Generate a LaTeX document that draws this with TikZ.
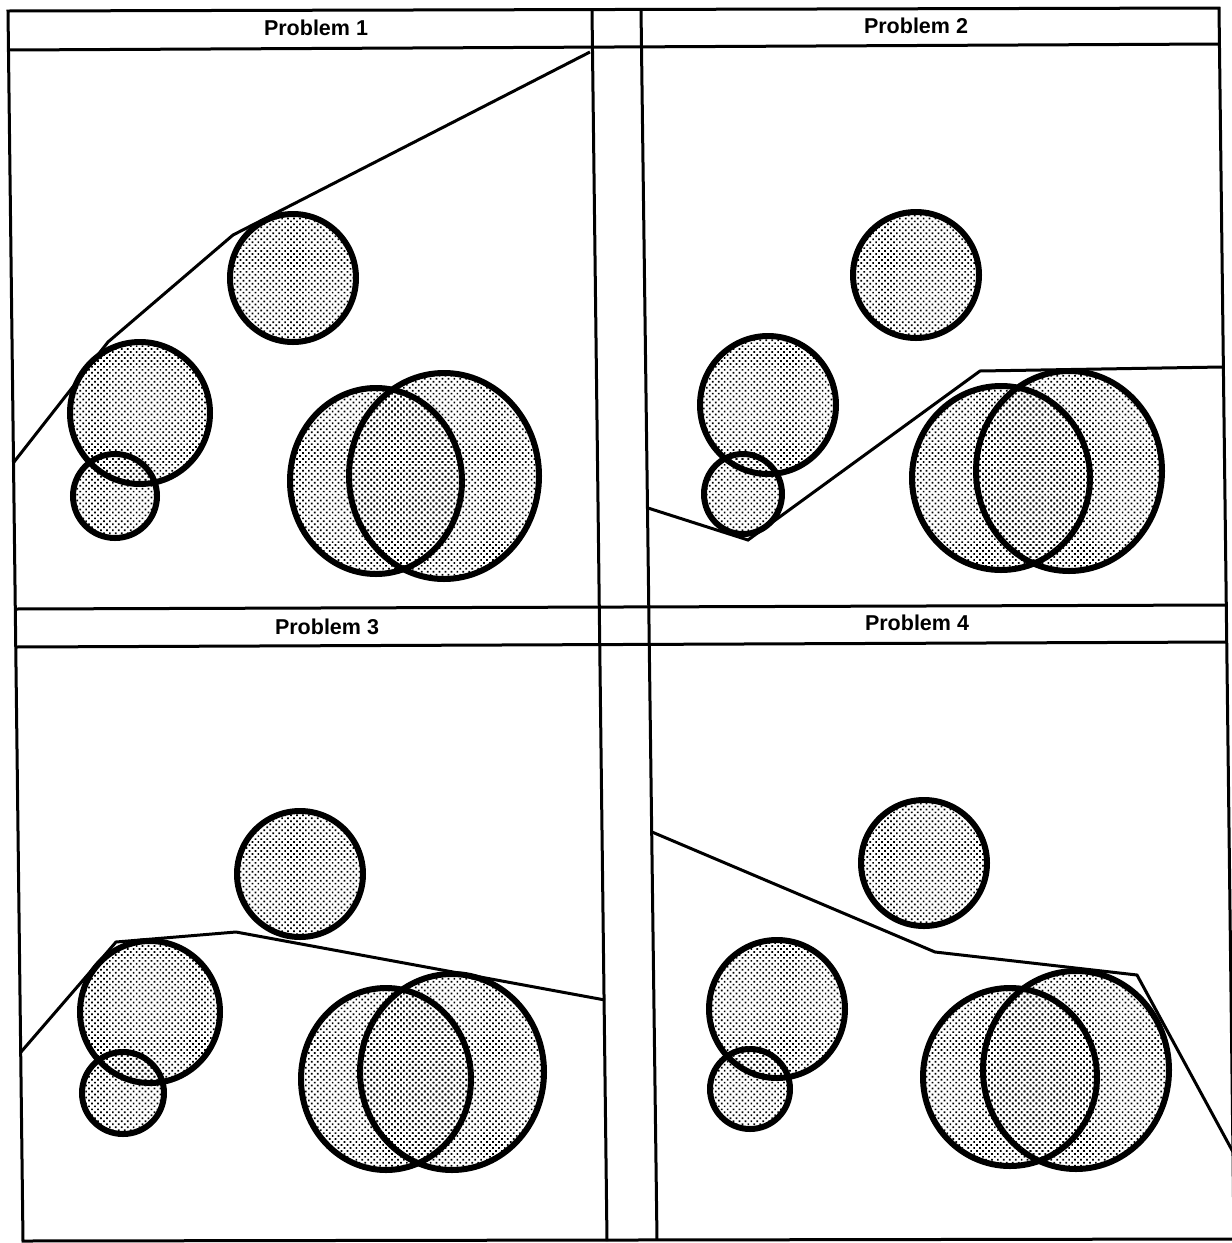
\documentclass[tikz,border=0pt]{standalone}
\usepackage{fontspec}
\setmainfont{Liberation Sans}
\usetikzlibrary{patterns.meta}

% centre x / centre y / x radius / y radius, in pixels of the scan
\def\spots{293/278/63/64, 140/413/70/71, 115/496/42/42, 376/481/86/93, 444/476/95/103,
  916/275/63/63, 768/405/68/69, 743/494/39/40, 1001/478/89/92, 1069/471/93/100,
  300/874/63/63, 150/1012/70/71, 123/1093/41/41, 386/1079/85/91, 452/1072/92/98,
  924/863/63/63, 777/1009/68/69, 750/1089/40/40, 1010/1077/87/89, 1076/1070/93/99}

\begin{document}
\begin{tikzpicture}[
  x=1pt, y=-1pt,
  frame/.style={line width=3pt},
  route/.style={line width=3pt, line join=miter},
  spot/.style={pattern={Dots[distance=4.2pt, radius=1.2pt, angle=45]}},
  rim/.style={line width=6pt},
  title/.style={font=\fontsize{21.5}{25}\selectfont\bfseries}
]
\fill[white] (0,0) rectangle (1232,1243);
\useasboundingbox (0,0) rectangle (1232,1243);

% grid of the four panels
\draw[frame] (8,11) -- (1219,8) -- (1234,1239) -- (23,1241) -- cycle;
\draw[frame] (8,50) -- (1219,44);
\draw[frame] (15,609) -- (1226,605);
\draw[frame] (15,647) -- (1226,642);
\draw[frame] (592,10) -- (607,1241);
\draw[frame] (641,9) -- (657,1240);

\node[title] (p1) at (316,28) {Problem 1};
\node[title] (p2) at (916,26) {Problem 2};
\node[title] (p3) at (327,627) {Problem 3};
\node[title] (p4) at (917,623) {Problem 4};

% obstacles: dots first, outlines on top
\foreach \cx/\cy/\rx/\ry in \spots
  \path[spot] (\cx,\cy) ellipse[x radius=\rx, y radius=\ry];
\foreach \cx/\cy/\rx/\ry in \spots
  \draw[rim] (\cx,\cy) ellipse[x radius=\rx, y radius=\ry];

% paths
\draw[route] (14,462) -- (108,342) -- (233,235) -- (590,52);
\draw[route] (648,508) -- (748,540) -- (980,371) -- (1222,367);
\draw[route] (21,1052) -- (116,942) -- (236,932) -- (605,1000);
\draw[route] (652,832) -- (935,952) -- (1137,975) -- (1233,1152);
\end{tikzpicture}
\end{document}
